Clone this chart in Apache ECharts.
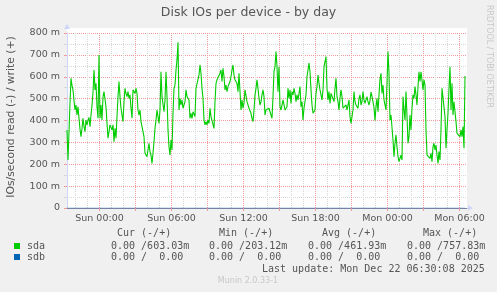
<!DOCTYPE html>
<html><head><meta charset="utf-8">
<script src="https://cdn.jsdelivr.net/npm/echarts@6/dist/echarts.min.js"></script>
<style>html,body{margin:0;padding:0;background:#F0F0F0;}#c{width:497px;height:292px;}</style>
</head><body><div id="c"></div>
<script>
const chartTitle = 'Disk IOs per device - by day';
const yAxisName = 'IOs/second read (-) / write (+)';
const sideNote = 'RRDTOOL / TOBI OETIKER';
const footerUpdate = 'Last update: Mon Dec 22 06:30:08 2025';
const footerVersion = 'Munin 2.0.33-1';

// time: minutes relative to Sun 00:00, one sample every 5 minutes
const startMinute = -162.5;
const stepMinute = 5;
const spanMinutes = 2000;

// sda write, in milli-IOs/second (read side is 0 throughout)
const sdaWriteMilli = [
357,219,350,480,593,560,540,490,448,471,
425,463,410,360,326,364,410,372,349,402,
380,400,414,372,425,470,530,631,540,570,
463,410,699,410,471,402,509,532,540,463,
387,319,326,380,372,357,380,303,364,319,
418,509,578,509,456,425,395,486,547,524,
509,532,501,517,456,410,540,547,524,547,
524,448,425,448,395,387,395,326,250,242,
235,265,296,258,242,204,250,303,364,402,
448,440,387,448,623,509,517,440,494,623,
509,357,280,242,311,265,433,547,562,631,
677,758,448,501,471,494,456,448,486,540,
509,517,494,410,433,410,440,448,418,547,
555,540,608,654,616,547,501,402,380,395,
380,402,387,456,418,410,410,364,486,570,
586,578,586,616,631,578,639,601,540,562,
532,555,547,578,601,631,654,608,586,593,
570,532,616,623,448,494,456,478,540,532,
486,478,456,463,433,410,395,448,517,547,
586,547,501,471,486,517,540,509,425,448,
448,448,456,456,463,410,509,623,646,715,
646,532,646,463,448,471,494,471,448,440,
463,547,501,540,478,532,517,547,524,486,
517,494,524,555,463,486,402,456,448,517,
601,631,662,623,540,471,433,425,448,524,
555,608,570,540,517,494,540,646,669,692,
547,494,532,478,524,517,532,486,547,593,
509,486,448,501,540,509,456,463,456,471,
448,456,494,418,387,395,448,532,486,471,
478,456,501,517,471,486,532,494,478,494,
509,486,471,490,530,510,509,460,400,463,
501,440,517,590,616,524,562,494,471,448,
570,715,616,402,425,425,311,235,296,334,
280,235,212,203,242,219,509,448,402,532,
418,296,326,425,357,456,517,501,555,517,
471,555,623,578,623,586,540,586,562,357,
242,235,250,227,250,212,280,296,265,288,
242,204,258,219,357,547,540,555,418,273,
357,433,547,646,448,570,425,486,486,395,
341,349,334,326,357,326,372,273,603
];
// sdb is flat at zero over the whole window
const sdbWriteMilli = [0, 0];
const sdbMinutes = [-162.5, 1827.5];

const xTickMinutes = [0, 360, 720, 1080, 1440, 1800];
const xTickLabels = ['Sun 00:00', 'Sun 06:00', 'Sun 12:00', 'Sun 18:00', 'Mon 00:00', 'Mon 06:00'];
const yMax = 800;
const yStep = 100;

const legendHeaders = ['Cur (-/+)', 'Min (-/+)', 'Avg (-/+)', 'Max (-/+)'];
const seriesNames = ['sda', 'sdb'];
const seriesColors = ['#00CC00', '#0066B3'];
const sdaStats = ['0.00 /603.03m', '0.00 /203.12m', '0.00 /461.93m', '0.00 /757.83m'];
const sdbStats = ['0.00 /  0.00', '0.00 /  0.00', '0.00 /  0.00', '0.00 /  0.00'];

const FONT = "'DejaVu Sans', sans-serif";
const MONO = "'DejaVu Sans Mono', monospace";
const TXT = '#555555';
const RED = '#F09A9A';
const GREY = '#D8D8D8';

// vertical grid: hourly grey, 3-hourly red
const xMajorGrid = [], xMinorGrid = [];
for (let m = -120; m <= 1800; m += 60) {
  if (m % 180 === 0) xMajorGrid.push(m); else xMinorGrid.push(m);
}

const xMin = startMinute, xMax = startMinute + spanMinutes;
const sdaData = sdaWriteMilli.map((v, i) => [startMinute + i * stepMinute, v]);
const sdbData = sdbWriteMilli.map((v, i) => [sdbMinutes[i], v]);

const colX = [111, 209, 308, 407];
const headX = [117, 219, 322, 423];

const graphics = [
  {type:'rect', z:-1, shape:{x:67, y:28, width:400, height:5}, style:{fill:'#FFFFFF'}},
  {type:'text', x:248.5, y:13, style:{text:chartTitle, fill:TXT, font:'12.5px ' + FONT, align:'center', verticalAlign:'middle'}},
  {type:'text', x:11, y:117, rotation:Math.PI/2, style:{text:yAxisName, fill:TXT, font:'10.8px ' + FONT, align:'center', verticalAlign:'middle'}},
  {type:'text', x:489, y:5, rotation:-Math.PI/2, style:{text:sideNote, fill:'#C8C8C8', font:'8px ' + FONT, align:'left', verticalAlign:'middle'}},
  {type:'polygon', shape:{points:[[468,205],[473,208],[468,211]]}, style:{fill:'#CFD6F8'}},
  {type:'polygon', shape:{points:[[64,29],[67,24],[70,29]]}, style:{fill:'#CFD6F8'}},
  {type:'text', x:262, y:269, style:{text:footerUpdate, fill:TXT, font:'10px ' + MONO, align:'left', verticalAlign:'middle'}},
  {type:'text', x:248, y:281, style:{text:footerVersion, fill:'#C8C8C8', font:'8px ' + FONT, align:'center', verticalAlign:'middle'}}
];
legendHeaders.forEach((h, k) => graphics.push({type:'text', x:headX[k], y:233, style:{text:h, fill:TXT, font:'10px ' + MONO, align:'left', verticalAlign:'middle'}}));
[sdaStats, sdbStats].forEach((row, r) => {
  const y = 246 + r * 11;
  graphics.push({type:'rect', shape:{x:14, y:y - 3, width:6, height:6}, style:{fill:seriesColors[r]}});
  graphics.push({type:'text', x:27, y:y, style:{text:seriesNames[r], fill:TXT, font:'10px ' + MONO, align:'left', verticalAlign:'middle'}});
  row.forEach((s, k) => graphics.push({type:'text', x:colX[k], y:y, style:{text:s, fill:TXT, font:'10px ' + MONO, align:'left', verticalAlign:'middle'}}));
});

const chart = echarts.init(document.getElementById('c'), null, {renderer:'canvas'});
chart.setOption({
  backgroundColor:'#F0F0F0',
  animation:false,
  grid:{left:67, right:30, top:33, bottom:84, show:true, backgroundColor:'#FFFFFF', borderWidth:0},
  xAxis:[
    {type:'value', min:xMin, max:xMax, position:'bottom',
     axisLine:{show:true, onZero:false, lineStyle:{color:'#8484A8', width:1}},
     axisTick:{show:true, customValues:xMajorGrid, length:3, lineStyle:{color:RED}},
     axisLabel:{customValues:xTickMinutes, color:TXT, fontFamily:FONT, fontSize:9.5, margin:6,
       formatter:(v) => xTickLabels[xTickMinutes.indexOf(v)] || ''},
     splitLine:{show:true, lineStyle:{color:RED, type:[1,1], width:1}}},
    {type:'value', min:xMin, max:xMax, position:'top',
     axisLine:{show:false}, axisTick:{show:false, customValues:xMinorGrid}, axisLabel:{show:false},
     splitLine:{show:true, lineStyle:{color:GREY, type:[1,1], width:1}}}
  ],
  yAxis:{type:'value', min:0, max:yMax, interval:yStep,
    axisLine:{show:true, onZero:false, lineStyle:{color:'#CFD6F8'}},
    axisTick:{show:true, length:3, lineStyle:{color:RED}},
    minorTick:{show:true, splitNumber:2, length:3, lineStyle:{color:GREY}},
    axisLabel:{color:TXT, fontFamily:FONT, fontSize:9.5, margin:7,
      formatter:(v) => v === 0 ? '0' : v + ' m'},
    splitLine:{show:true, lineStyle:{color:RED, type:[1,1], width:1}},
    minorSplitLine:{show:true, lineStyle:{color:GREY, type:[1,1], width:1}}},
  series:[
    {name:'sdb', type:'line', xAxisIndex:0, data:sdbData, symbol:'none', z:3,
     lineStyle:{color:seriesColors[1], width:1, opacity:0.35}},
    {name:'sda', type:'line', xAxisIndex:0, data:sdaData, symbol:'none', z:4,
     lineStyle:{color:seriesColors[0], width:1.1}}
  ],
  graphic:graphics
});
</script></body></html>
